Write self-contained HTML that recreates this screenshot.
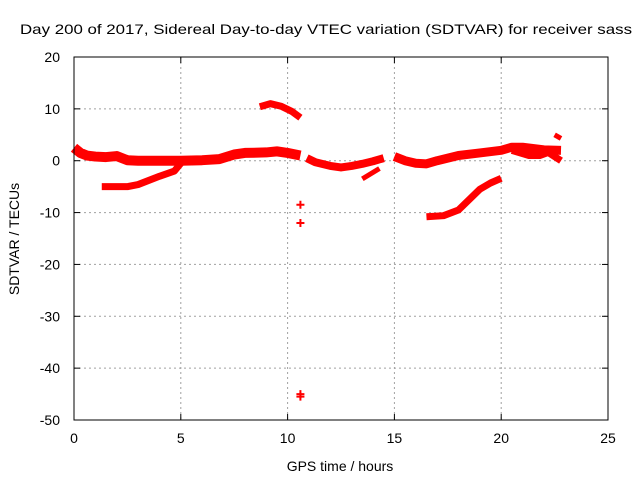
<!DOCTYPE html>
<html><head><meta charset="utf-8"><style>
body{margin:0;background:#fff;}
svg text{font-family:"Liberation Sans",sans-serif;font-size:14px;fill:#000;}
</style></head><body>
<svg id="chart" width="640" height="480" xmlns="http://www.w3.org/2000/svg">
<text x="326" y="34" text-anchor="middle" textLength="612" lengthAdjust="spacingAndGlyphs">Day 200 of 2017, Sidereal Day-to-day VTEC variation (SDTVAR) for receiver sass</text>
<g id="grid"></g>
<g id="series"></g>
<rect x="74" y="57" width="534" height="363" fill="none" stroke="#000" stroke-width="1"/>
<g id="ticks"></g>
<text x="340" y="471" text-anchor="middle">GPS time / hours</text>
<text transform="translate(19,239) rotate(-90)" text-anchor="middle">SDTVAR / TECUs</text>
</svg>
<script>
const xTicks=[0,5,10,15,20,25];
const yTicks=[20,10,0,-10,-20,-30,-40,-50];
const trackA=[[0,2.5],[0.3,1.5],[0.6,1],[1,0.8],[1.5,0.7],[2,0.9],[2.5,0.1],[3,0],[4,0],[5,0],[6,0.1],[6.8,0.3],[7.5,1.2],[8,1.5],[9,1.6],[9.5,1.8],[10,1.5],[10.6,1]];
const trackB=[[10.9,0.5],[11.3,-0.3],[12,-1],[12.5,-1.3],[13,-1],[13.5,-0.6],[14,-0.1],[14.5,0.5]];
const trackC=[[1.3,-5],[2.5,-5],[3,-4.6],[4,-3],[4.7,-2],[5,-0.5]];
const trackD=[[15,0.8],[15.5,0],[16,-0.5],[16.5,-0.6],[17,0],[17.5,0.5],[18,1],[19,1.5],[20,2],[20.5,2.6],[21,2.6],[22,2.1],[22.8,2]];
const trackD2=[[20.5,2],[21.3,1],[21.8,1],[22.2,1.6],[22.8,0]];
const trackBlip=[[13.5,-3.5],[14.3,-1.5]];
const trackE=[[16.5,-10.8],[17.3,-10.6],[18,-9.5],[18.5,-7.5],[19,-5.5],[19.5,-4.3],[20,-3.4]];
const trackF=[[8.7,10.4],[9.2,11],[9.7,10.5],[10.2,9.5],[10.6,8.3]];
const trackG=[[22.5,5],[22.8,4.3]];
const isolated=[[10.6,-8.5],[10.6,-12],[10.6,-45.5],[10.6,-45]];
const NS='http://www.w3.org/2000/svg';
const X0=74,X1=608,Y0=57,Y1=420;
const sx=v=>X0+(v-0)/25*(X1-X0);
const sy=v=>Y0+(20-v)/70*(Y1-Y0);
function mk(t,a,p){const e=document.createElementNS(NS,t);for(const k in a)e.setAttribute(k,a[k]);p.appendChild(e);return e;}
const grid=document.getElementById('grid'),ticks=document.getElementById('ticks'),ser=document.getElementById('series');
xTicks.forEach(v=>{const x=sx(v);
 if(v>0&&v<25){const g=mk('line',{x1:x,x2:x,y1:Y0,y2:Y1,stroke:'#a0a0a0','stroke-dasharray':'2,3'},grid);}
 mk('line',{x1:x,x2:x,y1:Y1,y2:Y1-6,stroke:'#000'},ticks);mk('line',{x1:x,x2:x,y1:Y0,y2:Y0+6,stroke:'#000'},ticks);
 const t=mk('text',{x:x,y:443,'text-anchor':'middle'},ticks);t.textContent=v;
 });
yTicks.forEach(v=>{const y=sy(v);
 if(v<20&&v>-50){const g=mk('line',{x1:X0,x2:X1,y1:y,y2:y,stroke:'#a0a0a0','stroke-dasharray':'2,3'},grid);}
 mk('line',{x1:X0,x2:X0+6,y1:y,y2:y,stroke:'#000'},ticks);mk('line',{x1:X1,x2:X1-6,y1:y,y2:y,stroke:'#000'},ticks);
 const t=mk('text',{x:60,y:y+5,'text-anchor':'end'},ticks);t.textContent=v;
 });
[[trackA,10],[trackB,8],[trackC,7],[trackD,9],[trackD2,7],[trackBlip,5],[trackE,7],[trackF,7],[trackG,5]].forEach(([d,w])=>{
 const p=mk('polyline',{points:d.map(q=>sx(q[0])+','+sy(q[1])).join(' '),fill:'none',stroke:'#ff0000','stroke-width':w,'stroke-linejoin':'round'},ser);
 });
isolated.forEach(q=>{const x=sx(q[0]),y=sy(q[1]);
 const p=mk('path',{d:`M${x-4},${y}H${x+4}M${x},${y-4}V${y+4}`,stroke:'#ff0000','stroke-width':2},ser);
 });
</script>
</body></html>
